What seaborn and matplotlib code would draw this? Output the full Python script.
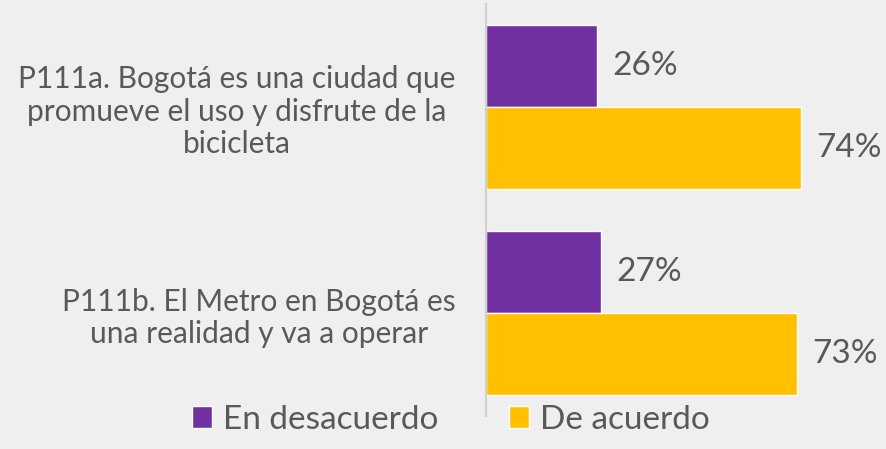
import pandas as pd
import matplotlib
matplotlib.use('Agg')
import matplotlib.pyplot as plt
import seaborn as sns

# Datos
preguntas = ['P111a. Bogotá es una ciudad que\npromueve el uso y disfrute de la\nbicicleta',
             'P111b. El Metro en Bogotá es\nuna realidad y va a operar']
series = ['En desacuerdo', 'De acuerdo']
en_desacuerdo = [26, 27]
de_acuerdo = [74, 73]
colores = ['#7030A0', '#FFC000']

df = pd.DataFrame({
    'Pregunta': preguntas * 2,
    'Respuesta': [series[0]] * 2 + [series[1]] * 2,
    'Valor': en_desacuerdo + de_acuerdo,
})

sns.set_style('white')
plt.rcParams['font.family'] = ['Lato', 'DejaVu Sans']
fondo = '#efefef'
gris = '#595959'

fig = plt.figure(figsize=(8.86, 4.49), dpi=100, facecolor=fondo)
ax = fig.add_axes([486 / 886, 33 / 449, 1 - 486 / 886, 412 / 449])
ax.set_facecolor(fondo)

sns.barplot(data=df, y='Pregunta', x='Valor', hue='Respuesta', palette=colores,
            orient='h', width=0.8, saturation=1, ax=ax)

for c in ax.containers:
    ax.bar_label(c, fmt='%d%%', padding=11, fontsize=24, color=gris)

ax.set_xlim(0, 94)
ax.set_ylim(1.5, -0.5)
ax.set_xlabel('')
ax.set_ylabel('')
ax.set_xticks([])
ax.tick_params(axis='y', length=0, pad=22, labelsize=21.5, labelcolor=gris)
for t in ax.get_yticklabels():
    t.set_multialignment('center')
    t.set_linespacing(1.2)

for s in ['top', 'right', 'bottom']:
    ax.spines[s].set_visible(False)
ax.spines['left'].set_color('#d0d0d0')
ax.spines['left'].set_linewidth(1.5)

h, l = ax.get_legend_handles_labels()
ax.get_legend().remove()
fig.legend(h, l, loc='lower center', bbox_to_anchor=(0.509, -0.035), ncol=2, frameon=False,
           fontsize=24, labelcolor=gris, handlelength=0.6, handleheight=0.6,
           handletextpad=0.35, columnspacing=2.1)

fig.savefig('out.png', dpi=100, facecolor=fondo)
